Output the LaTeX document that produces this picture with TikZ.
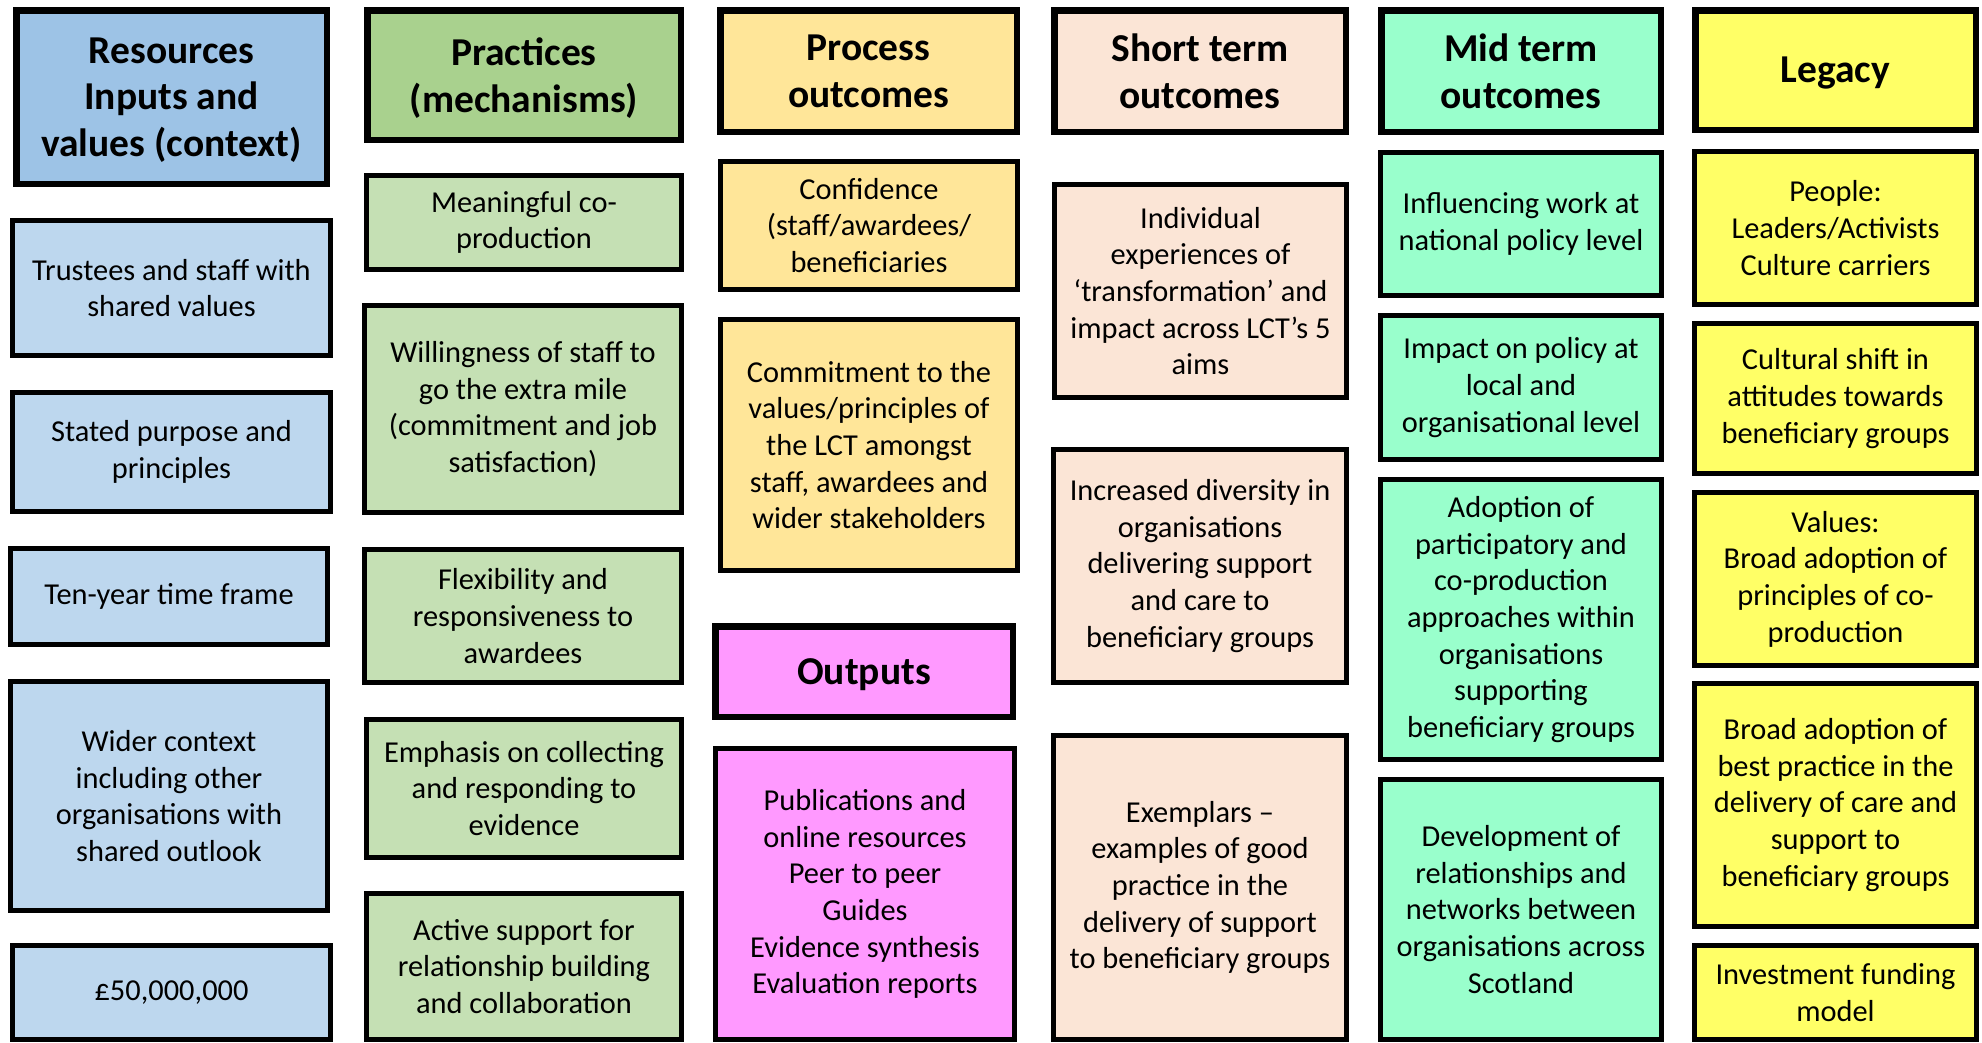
\documentclass[tikz,border=0pt]{standalone}
\usepackage{fontspec}
\setmainfont{Carlito}
\usepackage{tikz}
\usetikzlibrary{positioning}

\definecolor{reshead}{HTML}{9DC3E6}
\definecolor{resitem}{HTML}{BDD7EE}
\definecolor{prachead}{HTML}{A9D18E}
\definecolor{pracitem}{HTML}{C5E0B4}
\definecolor{procfill}{HTML}{FFE699}
\definecolor{shortfill}{HTML}{FBE5D6}
\definecolor{midfill}{HTML}{99FFCC}
\definecolor{legfill}{HTML}{FFFF66}
\definecolor{outfill}{HTML}{FF99FF}

\newcommand{\bodyfont}{\fontsize{30.4}{36.6}\selectfont}
\newcommand{\headfont}{\fontsize{39.5}{46.8}\selectfont\bfseries}

\tikzset{
    heading/.style={draw, line width=6.5pt, align=center, inner sep=0pt, text depth=0pt, font=\headfont},
    entry/.style={draw, line width=4.8pt, align=center, inner sep=0pt, font=\bodyfont},
}

\begin{document}
\begin{tikzpicture}[x=1pt, y=-1pt]
        \fill[white] (0,0) rectangle (1982,1042);
        \useasboundingbox (0,0) rectangle (1982,1042);

        % resources
        \node[heading, fill=reshead, minimum width=310.5pt, minimum height=173.5pt] (res) at (171.5,97) {Resources\\Inputs and\\values (context)};
        \node[entry, fill=resitem, minimum width=318.2pt, minimum height=135.2pt] (trustees) at (171.5,288) {Trustees and staff with\\shared values};
        \node[entry, fill=resitem, minimum width=318.2pt, minimum height=119.2pt] (purpose) at (171.5,452) {Stated purpose and\\principles};
        \node[entry, fill=resitem, minimum width=317.2pt, minimum height=96.2pt] (tenyear) at (169,596.5) {Ten-year time frame};
        \node[entry, fill=resitem, minimum width=317.2pt, minimum height=229.2pt] (wider) at (169,796) {Wider context\\including other\\organisations with\\shared outlook};
        \node[entry, fill=resitem, minimum width=318.2pt, minimum height=94.2pt] (money) at (171.5,992.5) {£50,000,000};

        % practices
        \node[heading, fill=prachead, minimum width=313.5pt, minimum height=129.5pt] (prac) at (524,75) {Practices\\(mechanisms)};
        \node[entry, fill=pracitem, minimum width=315.2pt, minimum height=94.2pt] (coprod) at (524,222.5) {Meaningful co-\\production};
        \node[entry, fill=pracitem, minimum width=317.2pt, minimum height=207.2pt] (willing) at (523,409) {Willingness of staff to\\go the extra mile\\(commitment and job\\satisfaction)};
        \node[entry, fill=pracitem, minimum width=317.2pt, minimum height=133.2pt] (flex) at (523,616) {Flexibility and\\responsiveness to\\awardees};
        \node[entry, fill=pracitem, minimum width=315.2pt, minimum height=138.2pt] (evidence) at (524,788.5) {Emphasis on collecting\\and responding to\\evidence};
        \node[entry, fill=pracitem, minimum width=315.2pt, minimum height=146.2pt] (support) at (524,966.5) {Active support for\\relationship building\\and collaboration};

        % process outcomes and outputs
        \node[heading, fill=procfill, minimum width=296.5pt, minimum height=121.5pt] (proc) at (868.5,71) {Process\\outcomes};
        \node[entry, fill=procfill, minimum width=297.2pt, minimum height=128.2pt] (confidence) at (869,225.5) {Confidence\\(staff/awardees/\\beneficiaries};
        \node[entry, fill=procfill, minimum width=297.2pt, minimum height=251.2pt] (commit) at (869,445) {Commitment to the\\values/principles of\\the LCT amongst\\staff, awardees and\\wider stakeholders};
        \node[heading, fill=outfill, minimum width=297.5pt, minimum height=90.5pt] (outputs) at (864,671.5) {Outputs};
        \node[entry, fill=outfill, minimum width=299.2pt, minimum height=291.2pt] (pubs) at (865,894) {Publications and\\online resources\\Peer to peer\\Guides\\Evidence synthesis\\Evaluation reports};

        % short term
        \node[heading, fill=shortfill, minimum width=291.5pt, minimum height=121.5pt] (short) at (1200,71) {Short term\\outcomes};
        \node[entry, fill=shortfill, minimum width=292.2pt, minimum height=213.2pt] (individual) at (1200.5,291) {Individual\\experiences of\\‘transformation’ and\\impact across LCT’s 5\\aims};
        \node[entry, fill=shortfill, minimum width=293.2pt, minimum height=233.2pt] (diversity) at (1200,566) {Increased diversity in\\organisations\\delivering support\\and care to\\beneficiary groups};
        \node[entry, fill=shortfill, minimum width=293.2pt, minimum height=304.2pt] (exemplars) at (1200,887.5) {Exemplars –\\examples of good\\practice in the\\delivery of support\\to beneficiary groups};

        % mid term
        \node[heading, fill=midfill, minimum width=279.5pt, minimum height=121.5pt] (mid) at (1521,71) {Mid term\\outcomes};
        \node[entry, fill=midfill, minimum width=281.2pt, minimum height=143.2pt] (national) at (1521,224) {Influencing work at\\national policy level};
        \node[entry, fill=midfill, minimum width=281.2pt, minimum height=144.2pt] (local) at (1521,387.5) {Impact on policy at\\local and\\organisational level};
        \node[entry, fill=midfill, minimum width=281.2pt, minimum height=280.2pt] (adoption) at (1521,619.5) {Adoption of\\participatory and\\co-production\\approaches within\\organisations\\supporting\\beneficiary groups};
        \node[entry, fill=midfill, minimum width=281.2pt, minimum height=260.2pt] (networks) at (1521,909.5) {Development of\\relationships and\\networks between\\organisations across\\Scotland};

        % legacy
        \node[heading, fill=legfill, minimum width=280.5pt, minimum height=119.5pt] (legacy) at (1835.5,70) {Legacy};
        \node[entry, fill=legfill, minimum width=282.2pt, minimum height=153.2pt] (people) at (1835.5,228) {People:\\Leaders/Activists\\Culture carriers};
        \node[entry, fill=legfill, minimum width=282.2pt, minimum height=150.2pt] (culture) at (1835.5,398.5) {Cultural shift in\\attitudes towards\\beneficiary groups};
        \node[entry, fill=legfill, minimum width=282.2pt, minimum height=173.2pt] (values) at (1835.5,579) {Values:\\Broad adoption of\\principles of co-\\production};
        \node[entry, fill=legfill, minimum width=282.2pt, minimum height=243.2pt] (practice) at (1835.5,805) {Broad adoption of\\best practice in the\\delivery of care and\\support to\\beneficiary groups};
        \node[entry, fill=legfill, minimum width=282.2pt, minimum height=94.2pt] (funding) at (1835.5,992.5) {Investment funding\\model};
\end{tikzpicture}
\end{document}
